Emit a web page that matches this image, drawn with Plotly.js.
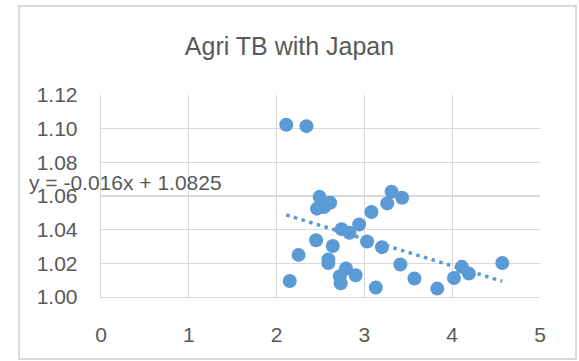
<!DOCTYPE html>
<html>
<head>
<meta charset="utf-8">
<script src="https://cdn.plot.ly/plotly-3.0.1.min.js"></script>
<style>
  html, body { margin: 0; padding: 0; background: #fff; }
  #wrap { position: relative; width: 579px; height: 361px; }
  #chart { position: absolute; left: 0; top: 0; width: 579px; height: 361px; }
  #frame { position: absolute; left: 18px; top: 5px; width: 555px; height: 351px;
           border: 2px solid #d9d9d9; pointer-events: none; }
</style>
</head>
<body>
<div id="wrap">
  <div id="chart"></div>
  <div id="frame"></div>
</div>
<script>
const xValues = [2.11, 2.34, 2.49, 2.46, 2.54, 2.61, 2.15, 2.25, 2.45, 2.64, 2.59, 2.59, 2.72, 2.73, 2.79, 2.90, 3.13,
                 2.74, 2.83, 2.94, 3.03, 3.20, 3.08, 3.26, 3.31, 3.43, 3.41, 3.57, 3.83, 4.02, 4.11, 4.19, 4.57];
const yValues = [1.1023, 1.1015, 1.0595, 1.0525, 1.0535, 1.0560, 1.0095, 1.0250, 1.0337, 1.0303, 1.0223, 1.0202, 1.0123, 1.0082, 1.0169, 1.0129, 1.0056,
                 1.0403, 1.0381, 1.0431, 1.0330, 1.0296, 1.0505, 1.0556, 1.0625, 1.0590, 1.0193, 1.0110, 1.0050, 1.0113, 1.0179, 1.0139, 1.0202];
const trendSlope = -0.016;
const trendIntercept = 1.0825;
const xTickVals = [0, 1, 2, 3, 4, 5];
const yTickVals = [1.00, 1.02, 1.04, 1.06, 1.08, 1.10, 1.12];
const titleText = 'Agri TB with Japan';
const equationText = 'y = -0.016x + 1.0825';

const xMin = Math.min(...xValues), xMax = Math.max(...xValues);
const trendX = [xMin, xMax];
const trendY = trendX.map(x => trendSlope * x + trendIntercept);

const textColor = '#595959';
const gridColor = '#d9d9d9';
const font = 'Liberation Sans, Arial, sans-serif';

const data = [
  {
    x: xValues, y: yValues, type: 'scatter', mode: 'markers',
    marker: { color: '#5b9bd5', size: 14 },
    hoverinfo: 'none', showlegend: false
  },
  {
    x: trendX, y: trendY, type: 'scatter', mode: 'lines',
    line: { color: '#5b9bd5', width: 3.5, dash: '3.5px,4.5px' },
    hoverinfo: 'none', showlegend: false
  }
];

const layout = {
  width: 579, height: 361,
  margin: { l: 101, r: 39, t: 95, b: 64, pad: 0 },
  paper_bgcolor: 'rgba(0,0,0,0)',
  plot_bgcolor: '#ffffff',
  title: {
    text: titleText,
    font: { family: font, size: 25, color: textColor },
    x: 0.5, xref: 'container', xanchor: 'center',
    y: 1 - 46 / 361, yref: 'container', yanchor: 'middle'
  },
  xaxis: {
    range: [0, 5], tickvals: xTickVals, ticktext: xTickVals.map(String),
    showgrid: true, gridcolor: gridColor, gridwidth: 1.3,
    zeroline: false, showline: true, linecolor: gridColor, linewidth: 1.3, mirror: false,
    ticks: '', ticklabelstandoff: 18,
    tickfont: { family: font, size: 21, color: textColor },
    fixedrange: true
  },
  yaxis: {
    range: [1.00, 1.12], tickvals: yTickVals, ticktext: yTickVals.map(v => v.toFixed(2)),
    showgrid: true, gridcolor: gridColor, gridwidth: 1.3,
    zeroline: false, showline: true, linecolor: gridColor, linewidth: 1.3,
    ticks: '', ticklabelstandoff: 18,
    tickfont: { family: font, size: 21, color: textColor },
    fixedrange: true
  },
  annotations: [{
    text: equationText, xref: 'paper', yref: 'paper',
    x: (27 - 101) / 439, y: (296.7 - 182) / 202, xanchor: 'left', yanchor: 'middle',
    showarrow: false, font: { family: font, size: 21, color: textColor }
  }]
};

Plotly.newPlot('chart', data, layout, { displayModeBar: false, staticPlot: true });
</script>
</body>
</html>
